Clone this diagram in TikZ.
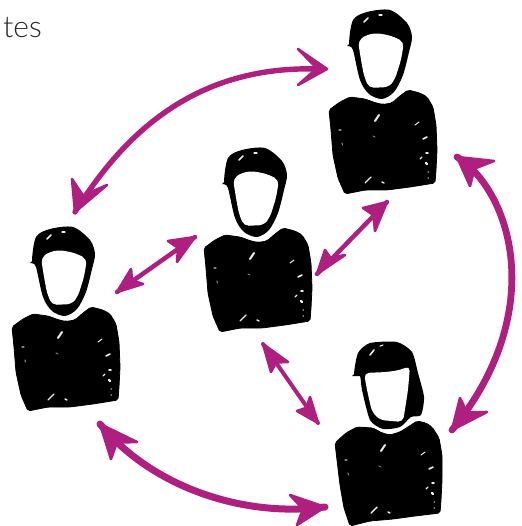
\documentclass[tikz,border=0pt]{standalone}
\usepackage{fontspec}
\newfontfamily\lab{Lato Light}
\usetikzlibrary{calc}
\definecolor{mag}{HTML}{AE1F80}
\tikzset{
  shaft/.style={draw=mag,line cap=round,line width=#1},
  shaft/.default=4.5pt,
  headfill/.style={fill=mag,draw=mag,line width=2.6pt,line join=round},
  inkblack/.style={fill=black,draw=black,line width=.8pt,rounded corners=2pt},
  hairblack/.style={fill=black,preaction={draw=white,line width=5pt}},
  facewhite/.style={fill=white,draw=none,rounded corners=5pt},
  spk/.style={draw=white!92!black,line cap=round,line width=#1},
  spk/.default=1.6pt,
  faint/.style={draw=white!50!black,line cap=round,line width=1.1pt}
}
\newcommand{\headd}[4]{%
  \path[headfill] (#2) -- (#1) -- (#3) -- ($(#1)!#4!($(#2)!.5!(#3)$)$) -- cycle;}
\newcommand{\specks}{%
  \draw[spk=2pt] (55,121) -- (59,115);
  \draw[spk=1.4pt] (45,183) -- (51,177);
  \draw[spk=1.4pt] (62,182) -- (64,183);
  \draw[spk=1pt] (95,125) -- (99,122);
  \draw[spk] (103,139) -- (107,137);
  \draw[spk] (106,153) -- (108,153);
  \draw[spk=1.3pt] (100,159) -- (102,157);
  \draw[spk=2.4pt] (106,163) -- (107,164);
  \draw[faint] (108,172) -- (108.5,172);
  \draw[faint] (108,178) -- (108.5,178);
  \draw[faint] (22,143) -- (22.5,145);
  \draw[faint] (19,130) -- (21,130);
  \draw[faint] (53,136) -- (55,137);
}
\newcommand{\manfig}[1]{%
\begin{scope}[shift={(#1)}]
  \path[inkblack] (9,110) -- (20,102) -- (30,97) -- (45,99) -- (56,103) -- (63,104.5) -- (72,103) -- (80,96) -- (88,90) -- (100,93) -- (107,97) -- (113,107) -- (116,125) -- (117,150) -- (116,170) -- (115,183) -- (90,187) -- (67,190) -- (45,190) -- (25,194) -- (18,178) -- (13,155) -- (11,130) -- cycle;
  \path[hairblack] plot[smooth cycle,tension=.5] coordinates {(29,44) (33,20) (47,12) (70,10) (87,23) (92,37) (89,52) (83,75) (74,92) (62,99) (49,94) (40,80) (33,50)};
  \path[fill=black] (27,46) -- (36,37) -- (36,47) -- cycle;
  \path[facewhite] (38,41) -- (46,35) -- (57,33) -- (72,36) -- (84,42) -- (81,60) -- (75,79) -- (69,87) -- (49,88) -- (44,76) -- (41,60) -- cycle;
  \draw[spk] (44,22) -- (48,18);
  \draw[spk=1.1pt] (59,15) -- (62,15);
  \specks
\end{scope}}
\begin{document}
\begin{tikzpicture}[x=1pt,y=-1pt]
\useasboundingbox (0,0) rectangle (521,526);
\node[anchor=base east,inner sep=0pt,font=\lab\fontsize{30}{30}\selectfont,text=black!85] (cut) at (42,38) {tes};

\manfig{320,0}
\manfig{195,138}
\manfig{3,217}

% woman
\begin{scope}[shift={(320,330)}]
  \path[inkblack] (15,113) -- (26,103) -- (37,97) -- (53,98) -- (62,103) -- (70,105) -- (80,102) -- (88,97) -- (97,91) -- (106,93) -- (112,97) -- (119,108) -- (122,125) -- (122,150) -- (121,170) -- (120,183) -- (95,186) -- (73,189) -- (50,191) -- (30,196) -- (24,178) -- (20,155) -- (17,130) -- cycle;
  \path[hairblack] plot[smooth cycle,tension=.4] coordinates {(34,45) (38,23) (50,13) (77,12) (92,22) (98,43) (104,67) (101,85) (91,87) (80,97) (63,99) (50,90) (42,60) (40,46)};
  \path[fill=black] (32,46) -- (42,37) -- (43,46) -- cycle;
  \path[facewhite] (44,43) -- (67,42) -- (80,40) -- (90,36) -- (88,60) -- (83,92) -- (60,90) -- (52,82) -- (47,60) -- cycle;
  \draw[spk] (50,25) -- (54,20);
  \draw[spk=1.1pt] (60,16) -- (63,15);
  \begin{scope}[shift={(6,0)}]\specks\end{scope}
\end{scope}

% named arrow ends
\coordinate (aR) at (327,69); \coordinate (aL) at (75,212);
\coordinate (bL) at (117,292); \coordinate (bR) at (195,237);
\coordinate (cT) at (387,202); \coordinate (cB) at (317,274);
\coordinate (dT) at (457,157); \coordinate (dB) at (452,430);
\coordinate (eT) at (263,344); \coordinate (eB) at (318,423);
\coordinate (fL) at (100,424); \coordinate (fR) at (325,507);

% top arc
\draw[shaft=5.4pt] (aL) .. controls (120,140) and (190,65) .. (318,69);
\headd{aL}{72,179}{107,185}{.55}
\headd{aR}{298,49}{298,85}{.35}
% left-middle
\draw[shaft=4.5pt] (bL) -- (bR);
\headd{bR}{168,241}{177,262}{.75}
\headd{bL}{131,269}{143,284}{.75}
% right-middle
\draw[shaft=4.5pt] (cT) -- (cB);
\headd{cT}{363,208}{375,231}{.75}
\headd{cB}{325,250}{345,255}{.75}
% right arc
\draw[shaft=6.8pt] (dT) .. controls (510,190) and (550,310) .. (dB);
\headd{dT}{494,161}{470,186}{.7}
\headd{dB}{460,398}{487,412}{.7}
% middle-bottom
\draw[shaft=4pt] (eT) -- (eB);
\headd{eT}{271,372}{288,362}{.8}
\headd{eB}{310,397}{297,411}{.8}
% bottom arc
\draw[shaft=7pt] (fL) .. controls (150,485) and (240,518) .. (fR);
\headd{fL}{111,459}{137,442}{.7}
\headd{fR}{290,495}{297,525}{.7}
\end{tikzpicture}
\end{document}
